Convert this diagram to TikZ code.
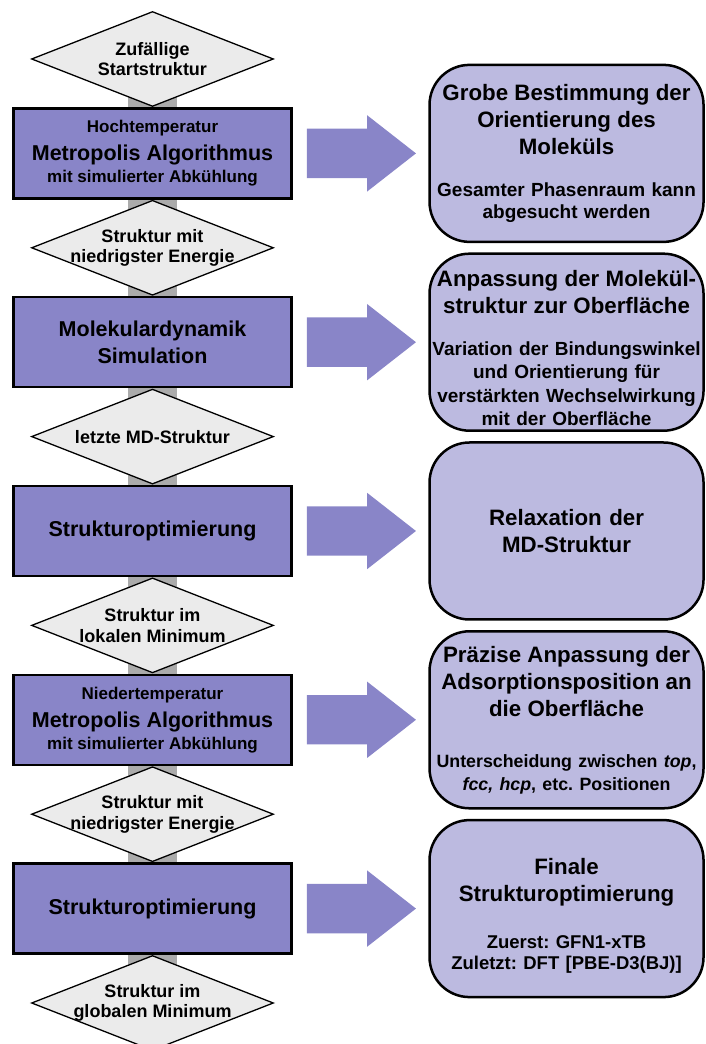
\documentclass[tikz,border=0pt]{standalone}
\usepackage{fontspec}
\setmainfont{Liberation Sans}
\usetikzlibrary{positioning,shapes.geometric,shapes.arrows,backgrounds}
\frenchspacing

\definecolor{stepblue}{RGB}{137,133,200}
\definecolor{infoblue}{RGB}{188,186,224}
\definecolor{checkgray}{RGB}{235,235,235}
\definecolor{spinegray}{RGB}{171,171,171}

\newcommand{\headfont}{\fontsize{22.3}{27}\selectfont}
\newcommand{\subfont}{\fontsize{19}{22}\selectfont}
\newcommand{\smallfont}{\fontsize{17}{20}\selectfont}

\tikzset{font=\bfseries}
\tikzset{stepbox/.style={draw, line width=2.5pt, fill=stepblue, minimum width=278pt, minimum height=90pt, inner sep=2pt, align=center, font=\bfseries\fontsize{21.5}{27}\selectfont}}
\tikzset{check/.style={diamond, draw, line width=1.3pt, fill=checkgray, aspect=2.5, inner sep=-20pt, minimum width=242pt, minimum height=95pt, align=center, font=\bfseries\fontsize{18}{20.5}\selectfont}}
\tikzset{blockarrow/.style={single arrow, fill=stepblue, inner xsep=0pt, inner ysep=24.5pt, single arrow head extend=13.5pt, single arrow tip angle=76, minimum height=109pt}}
\tikzset{infobox/.style={draw, line width=2.5pt, fill=infoblue, rounded corners=40pt, text width=270pt, inner xsep=2pt, minimum height=177pt, align=center, font=\bfseries\subfont}}
\tikzset{spine/.style={line width=49pt, spinegray}}

\begin{document}
\begin{tikzpicture}[x=1pt, y=1pt]
\useasboundingbox (0,0) rectangle (705,1044);

% left column
\node[check] (d1) at (152.5,985) {Zufällige\\Startstruktur};
\node[stepbox, below=0pt of d1] (b1) {{\smallfont Hochtemperatur}\\[1pt] Metropolis Algorithmus\\[-5pt] {\smallfont mit simulierter Abkühlung}};
\node[check, below=0pt of b1] (d2) {Struktur mit\\niedrigster Energie};
\node[stepbox, below=0pt of d2] (b2) {Molekulardynamik\\Simulation};
\node[check, below=0pt of b2] (d3) {letzte MD-Struktur};
\node[stepbox, below=0pt of d3] (b3) {Strukturoptimierung};
\node[check, below=0pt of b3] (d4) {Struktur im\\lokalen Minimum};
\node[stepbox, below=0pt of d4] (b4) {{\smallfont Niedertemperatur}\\[1pt] Metropolis Algorithmus\\[-5pt] {\smallfont mit simulierter Abkühlung}};
\node[check, below=0pt of b4] (d5) {Struktur mit\\niedrigster Energie};
\node[stepbox, below=0pt of d5] (b5) {Strukturoptimierung};
\node[check, below=0pt of b5] (d6) {Struktur im\\globalen Minimum};

\begin{scope}[on background layer]
\draw[spine] (d1.center) -- (d6.center);
\end{scope}

% arrows to the notes
\foreach \i in {1,...,5}
\node[blockarrow, right=14pt of b\i] (a\i) {};

% right column
\node[infobox, right=12pt of a1] (r1) {{\headfont Grobe Bestimmung der\\ Orientierung des\\ Moleküls\par}\vspace{20pt}Gesamter Phasenraum kann\\ abgesucht werden};
\node[infobox, right=12pt of a2] (r2) {{\headfont\rule{0pt}{28pt}Anpassung der Molekül-\\ struktur zur Oberfläche\par}\vspace{18pt}{\fontsize{19}{23.5}\selectfont Variation der Bindungswinkel\\ und Orientierung für\\ verstärkten Wechselwirkung\\ mit der Oberfläche\par}};
\node[infobox, right=12pt of a3, font=\bfseries\headfont] (r3) {Relaxation der\\ MD-Struktur};
\node[infobox, right=12pt of a4] (r4) {{\headfont Präzise Anpassung der\\ Adsorptionsposition an\\ die Oberfläche\par}\vspace{28pt}{\fontsize{17.8}{23}\selectfont Unterscheidung zwischen \textit{top},\\ \textit{fcc, hcp}, etc. Positionen\par}};
\node[infobox, right=12pt of a5] (r5) {{\headfont\rule{0pt}{30pt}Finale\\ Strukturoptimierung\par}\vspace{26pt}{\fontsize{18.5}{21}\selectfont Zuerst: GFN1-xTB\\ Zuletzt: DFT [PBE-D3(BJ)]\par}};
\end{tikzpicture}
\end{document}
